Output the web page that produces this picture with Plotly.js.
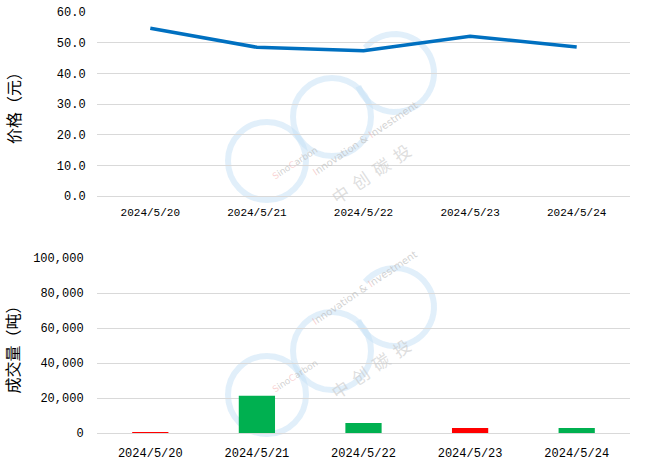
<!DOCTYPE html>
<html><head><meta charset="utf-8">
<script src="https://cdn.plot.ly/plotly-3.0.1.min.js"></script>
<style>html,body{margin:0;padding:0;background:#fff}#chart{width:663px;height:469px}</style>
</head><body><div id="chart"></div>
<script>
const dates = ["2024/5/20","2024/5/21","2024/5/22","2024/5/23","2024/5/24"];
const price = [54.7, 48.5, 47.4, 52.1, 48.6];
const volume = [600, 21300, 5700, 2900, 2800];
const priceTicks = [0,10,20,30,40,50,60];
const volumeTicks = [0,20000,40000,60000,80000,100000];

const upColor = "#FF0000", downColor = "#00B050";
const barColors = price.map((p,i)=> (i===0 || p>=price[i-1]) ? upColor : downColor);

const mono = "Liberation Mono, DejaVu Sans Mono, monospace";
const cjk = "Noto Sans CJK SC, sans-serif";

const W = 663, H = 469, ML = 97, MR = 33;
const px = x => (x - ML) / (W - ML - MR);
const py = y => 1 - y / H;

// faint watermark (decoration only)
const wmColor = "rgba(200,225,245,0.55)";
const wmShapes = [];
const wmAnn = [];
[0, 234].forEach(dy => {
  [[267,161],[332,117]].forEach(([cx,cy]) => {
    wmShapes.push({type:"circle", xref:"paper", yref:"paper", layer:"below",
      x0:px(cx-39), x1:px(cx+39), y0:py(cy+dy+39), y1:py(cy+dy-39),
      line:{color:wmColor, width:6}, fillcolor:"rgba(0,0,0,0)"});
  });
  const cx=395, cy=73+dy, r=39;
  const a0 = 200*Math.PI/180, a1 = 500*Math.PI/180;
  let d = "";
  for (let k=0;k<=40;k++){
    const a = a0 + (a1-a0)*k/40;
    d += (k? " L":"M") + px(cx + r*Math.cos(a)).toFixed(4) + "," + py(cy - r*Math.sin(a)).toFixed(4);
  }
  wmShapes.push({type:"path", xref:"paper", yref:"paper", layer:"below", path:d,
      line:{color:wmColor, width:6}});
  wmAnn.push({xref:"paper", yref:"paper", x:px(268), y:py(163+dy), showarrow:false, textangle:-33,
      text:'<span style="color:rgba(240,150,150,0.6)">S</span>ino<span style="color:rgba(240,150,150,0.6)">C</span>arbon',
      font:{family:"DejaVu Sans", size:9, color:"rgba(190,190,190,0.7)"}});
  wmAnn.push({xref:"paper", yref:"paper", x:px(365), y:py(96+dy), showarrow:false, textangle:-34,
      text:'<span style="color:rgba(240,150,150,0.6)">I</span>nnovation &amp; <span style="color:rgba(240,150,150,0.6)">I</span>nvestment',
      font:{family:"DejaVu Sans", size:10, color:"rgba(190,190,190,0.7)"}});
  wmAnn.push({xref:"paper", yref:"paper", x:px(370), y:py(173+dy), showarrow:false, textangle:-34,
      text:"中  创  碳  投", font:{family:cjk, size:17, color:"rgba(200,200,200,0.6)"}});
});

const traces = [
  {x: dates, y: price, type:"scatter", mode:"lines", xaxis:"x", yaxis:"y",
   line:{color:"#0070C0", width:3.5}, hoverinfo:"skip"},
  {x: dates, y: volume, type:"bar", xaxis:"x2", yaxis:"y2",
   marker:{color: barColors}, width:0.34, hoverinfo:"skip"}
];

const layout = {
  width:W, height:H, showlegend:false,
  paper_bgcolor:"#fff", plot_bgcolor:"rgba(0,0,0,0)",
  margin:{l:ML, r:MR, t:0, b:0},
  shapes: wmShapes, annotations: wmAnn,
  xaxis:{domain:[0,1], anchor:"y", type:"category", range:[-0.5,4.5],
    showgrid:false, zeroline:false, showline:false,
    ticks:"outside", ticklen:6, tickcolor:"rgba(0,0,0,0)",
    tickfont:{family:mono, size:11, color:"#000"}, automargin:false},
  yaxis:{domain:[py(196), py(12)], anchor:"x", range:[0,60],
    tickvals: priceTicks, tickformat:".1f",
    showgrid:true, gridcolor:"#D9D9D9", gridwidth:1, zeroline:true, zerolinecolor:"#D9D9D9", zerolinewidth:1,
    showline:false, ticks:"outside", ticklen:8, tickcolor:"rgba(0,0,0,0)",
    tickfont:{family:mono, size:12, color:"#000"}, automargin:false,
    title:{text:"价格（元）", font:{family:cjk, size:16, color:"#000"}, standoff:32}},
  xaxis2:{domain:[0,1], anchor:"y2", type:"category", range:[-0.5,4.5],
    showgrid:false, zeroline:false, showline:false,
    ticks:"outside", ticklen:9, tickcolor:"rgba(0,0,0,0)",
    tickfont:{family:mono, size:12, color:"#000"}, automargin:false},
  yaxis2:{domain:[py(433), py(258)], anchor:"x2", range:[0,100000],
    tickvals: volumeTicks, tickformat:",d",
    showgrid:true, gridcolor:"#D9D9D9", gridwidth:1, zeroline:true, zerolinecolor:"#D9D9D9", zerolinewidth:1,
    showline:false, ticks:"outside", ticklen:10, tickcolor:"rgba(0,0,0,0)",
    tickfont:{family:mono, size:12, color:"#000"}, automargin:false,
    title:{text:"成交量（吨）", font:{family:cjk, size:16, color:"#000"}, standoff:10}}
};

Plotly.newPlot("chart", traces, layout, {staticPlot:true, displayModeBar:false});
</script>
</body></html>
